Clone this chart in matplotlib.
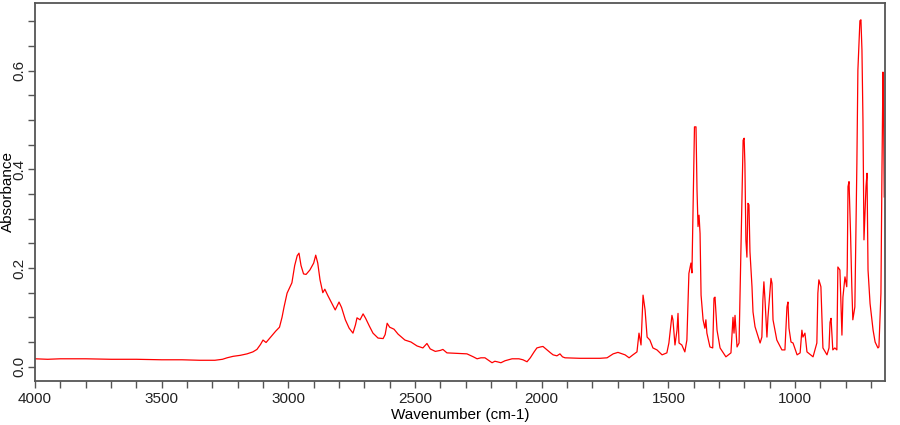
import matplotlib
matplotlib.use("Agg")
import matplotlib.pyplot as plt
from matplotlib.ticker import MultipleLocator

# IR spectrum (wavenumber in cm-1, absorbance)
wavenumber = [
    4000, 3950, 3900, 3800, 3700, 3600, 3500, 3420, 3350, 3290,
    3260, 3242, 3218, 3190, 3163, 3140, 3124, 3110, 3100, 3088,
    3070, 3050, 3035, 3025, 3017, 3005, 2995, 2986, 2975, 2965,
    2958, 2950, 2940, 2930, 2915, 2900, 2892, 2884, 2875, 2864,
    2856, 2845, 2829, 2815, 2800, 2790, 2775, 2760, 2745, 2735,
    2729, 2717, 2705, 2695, 2680, 2666, 2646, 2626, 2618, 2610,
    2600, 2583, 2567, 2540, 2516, 2492, 2469, 2453, 2440, 2420,
    2400, 2390, 2374, 2330, 2295, 2270, 2255, 2240, 2224, 2196,
    2185, 2176, 2161, 2145, 2117, 2090, 2074, 2058, 2045, 2030,
    2019, 2005, 1995, 1979, 1965, 1955, 1940, 1928, 1918, 1908,
    1850, 1770, 1742, 1718, 1699, 1671, 1655, 1640, 1624, 1616,
    1608, 1600, 1592, 1584, 1573, 1561, 1545, 1525, 1506, 1498,
    1486, 1482, 1474, 1466, 1462, 1458, 1447, 1435, 1427, 1419,
    1411, 1407, 1403, 1397, 1391, 1387, 1383, 1379, 1375, 1371,
    1363, 1356, 1352, 1348, 1336, 1325, 1320, 1316, 1308, 1296,
    1273, 1253, 1245, 1241, 1237, 1229, 1221, 1213, 1205, 1201,
    1198, 1194, 1190, 1186, 1182, 1178, 1170, 1166, 1158, 1150,
    1138, 1131, 1127, 1123, 1119, 1111, 1107, 1095, 1091, 1087,
    1072, 1052, 1040, 1032, 1028, 1024, 1016, 1008, 992, 980,
    973, 969, 961, 953, 929, 914, 910, 906, 898, 894,
    890, 874, 866, 862, 858, 851, 843, 835, 831, 823,
    815, 811, 803, 796, 794, 791, 787, 781, 776, 772,
    764, 756, 752, 744, 740, 736, 732, 728, 720, 716,
    712, 704, 692, 684, 673, 669, 661, 657, 653, 651,
    648,
]
absorbance = [
    0.016, 0.015, 0.016, 0.016, 0.015, 0.015, 0.014, 0.014, 0.013, 0.013,
    0.015, 0.018, 0.021, 0.023, 0.026, 0.030, 0.035, 0.045, 0.054, 0.049,
    0.060, 0.072, 0.080, 0.100, 0.121, 0.149, 0.160, 0.170, 0.205, 0.225,
    0.230, 0.205, 0.188, 0.187, 0.196, 0.210, 0.226, 0.210, 0.176, 0.150,
    0.157, 0.145, 0.129, 0.115, 0.131, 0.120, 0.095, 0.078, 0.068, 0.085,
    0.099, 0.095, 0.107, 0.098, 0.082, 0.068, 0.058, 0.057, 0.065, 0.088,
    0.080, 0.076, 0.066, 0.054, 0.050, 0.042, 0.038, 0.047, 0.036, 0.031,
    0.033, 0.035, 0.028, 0.027, 0.026, 0.020, 0.016, 0.018, 0.018, 0.008,
    0.011, 0.010, 0.008, 0.012, 0.016, 0.016, 0.014, 0.010, 0.018, 0.030,
    0.038, 0.040, 0.041, 0.034, 0.028, 0.024, 0.022, 0.026, 0.020, 0.018,
    0.017, 0.017, 0.018, 0.026, 0.029, 0.024, 0.018, 0.024, 0.030, 0.068,
    0.044, 0.145, 0.115, 0.060, 0.054, 0.038, 0.034, 0.024, 0.028, 0.048,
    0.104, 0.095, 0.044, 0.074, 0.108, 0.048, 0.044, 0.030, 0.054, 0.189,
    0.210, 0.190, 0.304, 0.486, 0.486, 0.358, 0.284, 0.307, 0.270, 0.145,
    0.095, 0.078, 0.095, 0.068, 0.040, 0.038, 0.139, 0.141, 0.074, 0.038,
    0.020, 0.028, 0.100, 0.068, 0.104, 0.040, 0.048, 0.250, 0.459, 0.463,
    0.412, 0.256, 0.222, 0.331, 0.328, 0.233, 0.162, 0.111, 0.081, 0.068,
    0.048, 0.060, 0.135, 0.172, 0.139, 0.060, 0.100, 0.179, 0.169, 0.095,
    0.054, 0.034, 0.034, 0.121, 0.131, 0.078, 0.050, 0.048, 0.024, 0.028,
    0.074, 0.060, 0.068, 0.030, 0.020, 0.048, 0.149, 0.176, 0.162, 0.100,
    0.038, 0.024, 0.038, 0.090, 0.098, 0.034, 0.038, 0.034, 0.202, 0.196,
    0.064, 0.141, 0.182, 0.162, 0.202, 0.365, 0.375, 0.270, 0.162, 0.095,
    0.121, 0.412, 0.601, 0.701, 0.703, 0.642, 0.500, 0.257, 0.365, 0.392,
    0.196, 0.128, 0.074, 0.050, 0.038, 0.040, 0.149, 0.399, 0.597, 0.534,
    0.344,
]
assert len(wavenumber) == len(absorbance)

x_ticks = [4000, 3500, 3000, 2500, 2000, 1500, 1000]
y_ticks = [0.0, 0.2, 0.4, 0.6]

plt.rcParams["font.family"] = ["Liberation Sans", "DejaVu Sans"]
edge = "#555555"

fig = plt.figure(figsize=(9, 4.25), dpi=100)
ax = fig.add_axes([35 / 900, 1 - 381 / 425, 850 / 900, 378 / 425])

ax.plot(wavenumber, absorbance, color="#ff0000", lw=0.9)

ax.set_xlim(4000, 645)
ax.set_ylim(-0.029, 0.737)

ax.set_xticks(x_ticks)
ax.xaxis.set_minor_locator(MultipleLocator(100))
ax.set_yticks(y_ticks)
ax.set_yticklabels([f"{v:.1f}" for v in y_ticks], rotation=90, va="center")
ax.yaxis.set_minor_locator(MultipleLocator(0.05))

ax.tick_params(axis="both", which="both", length=5, width=1, color=edge,
               labelsize=11, labelcolor="#222222")
ax.tick_params(axis="x", which="major", pad=3)
ax.tick_params(axis="y", which="major", pad=1)

for s in ax.spines.values():
    s.set_color(edge)
    s.set_linewidth(1.3)

ax.set_xlabel("Wavenumber (cm-1)", fontsize=11, labelpad=1)
ax.set_ylabel("Absorbance", fontsize=11)
ax.yaxis.set_label_coords(-0.024, 0.5)

fig.savefig("out.png", dpi=100)
